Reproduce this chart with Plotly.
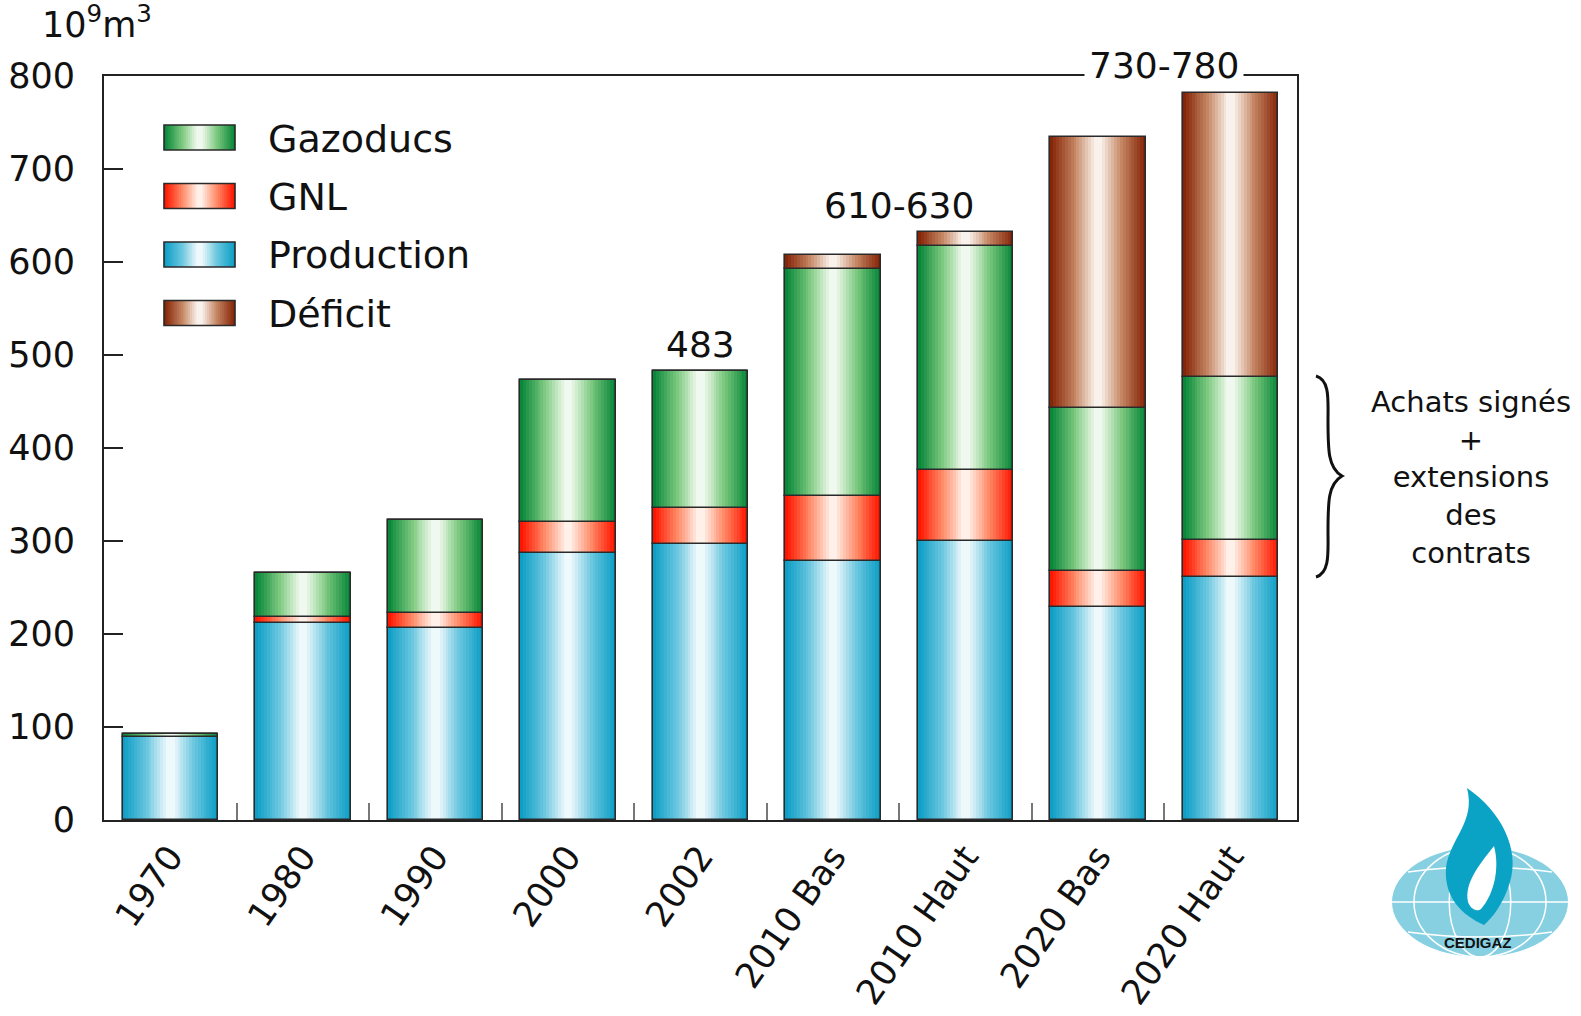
import plotly.graph_objects as go

# ---------------- data ----------------
categories = ["1970", "1980", "1990", "2000", "2002", "2010 Bas", "2010 Haut", "2020 Bas", "2020 Haut"]
production = [89, 212, 206, 287, 297, 279, 300, 229, 261]
gnl        = [0, 6, 17, 33, 39, 69, 76, 39, 40]
gazoducs   = [4, 48, 100, 153, 147, 245, 241, 175, 175]
deficit    = [0, 0, 0, 0, 0, 15, 15, 291, 306]
y_ticks    = [0, 100, 200, 300, 400, 500, 600, 700, 800]

series = [
    ("Production", production, ("#0e9fc6", "#6cc7df", "#d6f0f7")),
    ("GNL",        gnl,        ("#ff1600", "#ff8b68", "#ffdacd")),
    ("Gazoducs",   gazoducs,   ("#0a883a", "#7cc97f", "#dbf1d8")),
    ("Déficit",    deficit,    ("#862608", "#c48663", "#f1ddd1")),
]
legend_order = ["Gazoducs", "GNL", "Production", "Déficit"]

FONT = "DejaVu Sans, Liberation Sans, Arial, sans-serif"
W, H = 1581, 1016
L, R, T, B = 104, 1297, 76, 820
BAR_W = 0.72
N = 16


def hex2rgb(h):
    h = h.lstrip("#")
    return tuple(int(h[i:i + 2], 16) for i in (0, 2, 4))


def mix(c1, c2, t):
    a, b = hex2rgb(c1), hex2rgb(c2)
    return "rgb(%d,%d,%d)" % tuple(round(a[i] + (b[i] - a[i]) * t) for i in range(3))


def grad(stops, t):
    edge, mid, light = stops
    if t < 0.5:
        return mix(edge, mid, t / 0.5)
    if t < 0.85:
        return mix(mid, light, (t - 0.5) / 0.35)
    return mix(light, "#ffffff", (t - 0.85) / 0.15)


def px(x):
    return (x - L) / (R - L)


def py(y):
    return (B - y) / (B - T)


fig = go.Figure()

# stacked bars with cylindrical gradient (overlaid narrowing bars)
cum = [0] * len(categories)
for name, vals, stops in series:
    base = cum[:]
    for k in range(N):
        t = k / N
        fig.add_trace(go.Bar(
            x=categories, y=vals, base=base,
            width=BAR_W * (1 - t * 0.97),
            marker=dict(color=grad(stops, t), line=dict(width=0)),
            showlegend=False, hoverinfo="skip"))
    fig.add_trace(go.Bar(
        x=categories, y=vals, base=base, width=BAR_W,
        marker=dict(color="rgba(0,0,0,0)", line=dict(color="#2a2a2a", width=1.6)),
        name=name, showlegend=False,
        hovertemplate=name + ": %{y}<extra></extra>"))
    cum = [c + v for c, v in zip(cum, vals)]

totals = cum

shapes = []
annotations = []

# custom legend
stops_map = {n: s for n, _, s in series}
lx0, lx1 = 164, 235
for i, name in enumerate(legend_order):
    cy = 137.5 + i * 58.5
    y0, y1 = py(cy + 12.5), py(cy - 12.5)
    cx = (lx0 + lx1) / 2
    half = (lx1 - lx0) / 2
    for k in range(N):
        t = k / N
        hw = half * (1 - t * 0.97)
        shapes.append(dict(type="rect", xref="paper", yref="paper",
                           x0=px(cx - hw), x1=px(cx + hw), y0=y0, y1=y1,
                           fillcolor=grad(stops_map[name], t), line=dict(width=0), layer="above"))
    shapes.append(dict(type="rect", xref="paper", yref="paper",
                       x0=px(lx0), x1=px(lx1), y0=y0, y1=y1,
                       fillcolor="rgba(0,0,0,0)", line=dict(color="#2a2a2a", width=1.6), layer="above"))
    annotations.append(dict(text=name, xref="paper", yref="paper", x=px(266), y=py(cy + 1),
                            xanchor="left", yanchor="middle", showarrow=False,
                            font=dict(size=38, color="#111", family=FONT)))

# unit label
annotations.append(dict(text="10<sup>9</sup>m<sup>3</sup>", xref="paper", yref="paper",
                        x=px(40), y=py(47), xanchor="left", yanchor="bottom", showarrow=False,
                        font=dict(size=35, color="#111", family=FONT)))

# value annotations
annotations.append(dict(text="483", x=4, y=totals[4], xref="x", yref="y", yanchor="bottom",
                        yshift=4, showarrow=False, font=dict(size=36, color="#111", family=FONT)))
annotations.append(dict(text="610-630", x=5.5, y=totals[6], xref="x", yref="y", yanchor="bottom",
                        yshift=4, showarrow=False, font=dict(size=36, color="#111", family=FONT)))
annotations.append(dict(text="730-780", x=7.5, y=800, xref="x", yref="y", yanchor="middle",
                        yshift=11, showarrow=False, bgcolor="white", borderpad=4,
                        font=dict(size=36, color="#111", family=FONT)))

# brace + side text
bx = [(1316, 376), (1330, 380), (1328, 400), (1328, 420), (1328, 450), (1328, 468), (1342, 476),
      (1328, 484), (1328, 502), (1328, 532), (1328, 552), (1330, 573), (1316, 577)]
p = "M %f,%f" % (px(bx[0][0]), py(bx[0][1]))
for i in range(1, len(bx), 3):
    pts = bx[i:i + 3]
    p += " C " + " ".join("%f,%f" % (px(a), py(b)) for a, b in pts)
shapes.append(dict(type="path", xref="paper", yref="paper", path=p,
                   line=dict(color="#111", width=3)))
annotations.append(dict(text="Achats signés<br>+<br>extensions<br>des<br>contrats",
                        xref="paper", yref="paper", x=px(1471), y=py(477), xanchor="center",
                        yanchor="middle", showarrow=False, align="center",
                        font=dict(size=29, color="#111", family=FONT)))

# CEDIGAZ logo
ecx, ecy, erx, ery = 1480, 902, 88, 55
shapes.append(dict(type="circle", xref="paper", yref="paper",
                   x0=px(ecx - erx), x1=px(ecx + erx), y0=py(ecy + ery), y1=py(ecy - ery),
                   fillcolor="#86d0e2", line=dict(width=0)))
for f in (0.35, 0.75):
    shapes.append(dict(type="circle", xref="paper", yref="paper",
                       x0=px(ecx - erx * f), x1=px(ecx + erx * f), y0=py(ecy + ery), y1=py(ecy - ery),
                       line=dict(color="white", width=1.5)))
shapes.append(dict(type="line", xref="paper", yref="paper", x0=px(ecx - erx), x1=px(ecx + erx),
                   y0=py(ecy), y1=py(ecy), line=dict(color="white", width=1.5)))
for dy, sag in ((-30, -10), (30, 10)):
    pa = "M %f,%f Q %f,%f %f,%f" % (px(ecx - 72), py(ecy + dy), px(ecx), py(ecy + dy + sag),
                                    px(ecx + 72), py(ecy + dy))
    shapes.append(dict(type="path", xref="paper", yref="paper", path=pa,
                       line=dict(color="white", width=1.5)))
flame = [(1467, 788), (1502, 812), (1520, 850), (1510, 882), (1503, 905), (1492, 918), (1484, 925),
         (1462, 915), (1444, 898), (1446, 868), (1450, 838), (1476, 822), (1467, 788)]
fp = "M %f,%f" % (px(flame[0][0]), py(flame[0][1]))
for i in range(1, len(flame), 3):
    fp += " C " + " ".join("%f,%f" % (px(a), py(b)) for a, b in flame[i:i + 3])
fp += " Z"
shapes.append(dict(type="path", xref="paper", yref="paper", path=fp,
                   fillcolor="#0aa3c6", line=dict(width=0)))
hole = [(1494, 846), (1478, 866), (1464, 884), (1468, 902), (1471, 910), (1478, 912), (1481, 909),
        (1494, 894), (1500, 868), (1494, 846)]
hp = "M %f,%f" % (px(hole[0][0]), py(hole[0][1]))
for i in range(1, len(hole), 3):
    hp += " C " + " ".join("%f,%f" % (px(a), py(b)) for a, b in hole[i:i + 3])
hp += " Z"
shapes.append(dict(type="path", xref="paper", yref="paper", path=hp,
                   fillcolor="white", line=dict(width=0)))
annotations.append(dict(text="<b>CEDIGAZ</b>", xref="paper", yref="paper", x=px(1478), y=py(942),
                        xanchor="center", yanchor="middle", showarrow=False,
                        font=dict(size=15, color="#111", family="Liberation Sans, Arial, sans-serif")))

fig.update_layout(
    width=W, height=H,
    margin=dict(l=L, r=W - R, t=T, b=H - B, autoexpand=False),
    paper_bgcolor="white", plot_bgcolor="white",
    barmode="overlay", bargap=0,
    showlegend=False,
    shapes=shapes, annotations=annotations,
    font=dict(family=FONT, color="#111"),
    xaxis=dict(
        type="category", categoryorder="array", categoryarray=categories,
        range=[-0.5, len(categories) - 0.5], automargin=False,
        tickangle=-55, tickfont=dict(size=35, family=FONT, color="#111"),
        ticks="inside", tickson="boundaries", ticklen=17, tickwidth=2, tickcolor="#777",
        showline=True, linecolor="#222", linewidth=2, mirror=True,
        showgrid=False, zeroline=False, fixedrange=True),
    yaxis=dict(
        range=[0, 800], tickmode="array", tickvals=y_ticks, automargin=False,
        tickfont=dict(size=35, family=FONT, color="#111"),
        ticks="inside", ticklen=19, tickwidth=2, tickcolor="#222",
        ticklabelstandoff=20,
        showline=True, linecolor="#222", linewidth=2, mirror=True,
        showgrid=False, zeroline=False, fixedrange=True),
)

fig.write_html("out.html")
